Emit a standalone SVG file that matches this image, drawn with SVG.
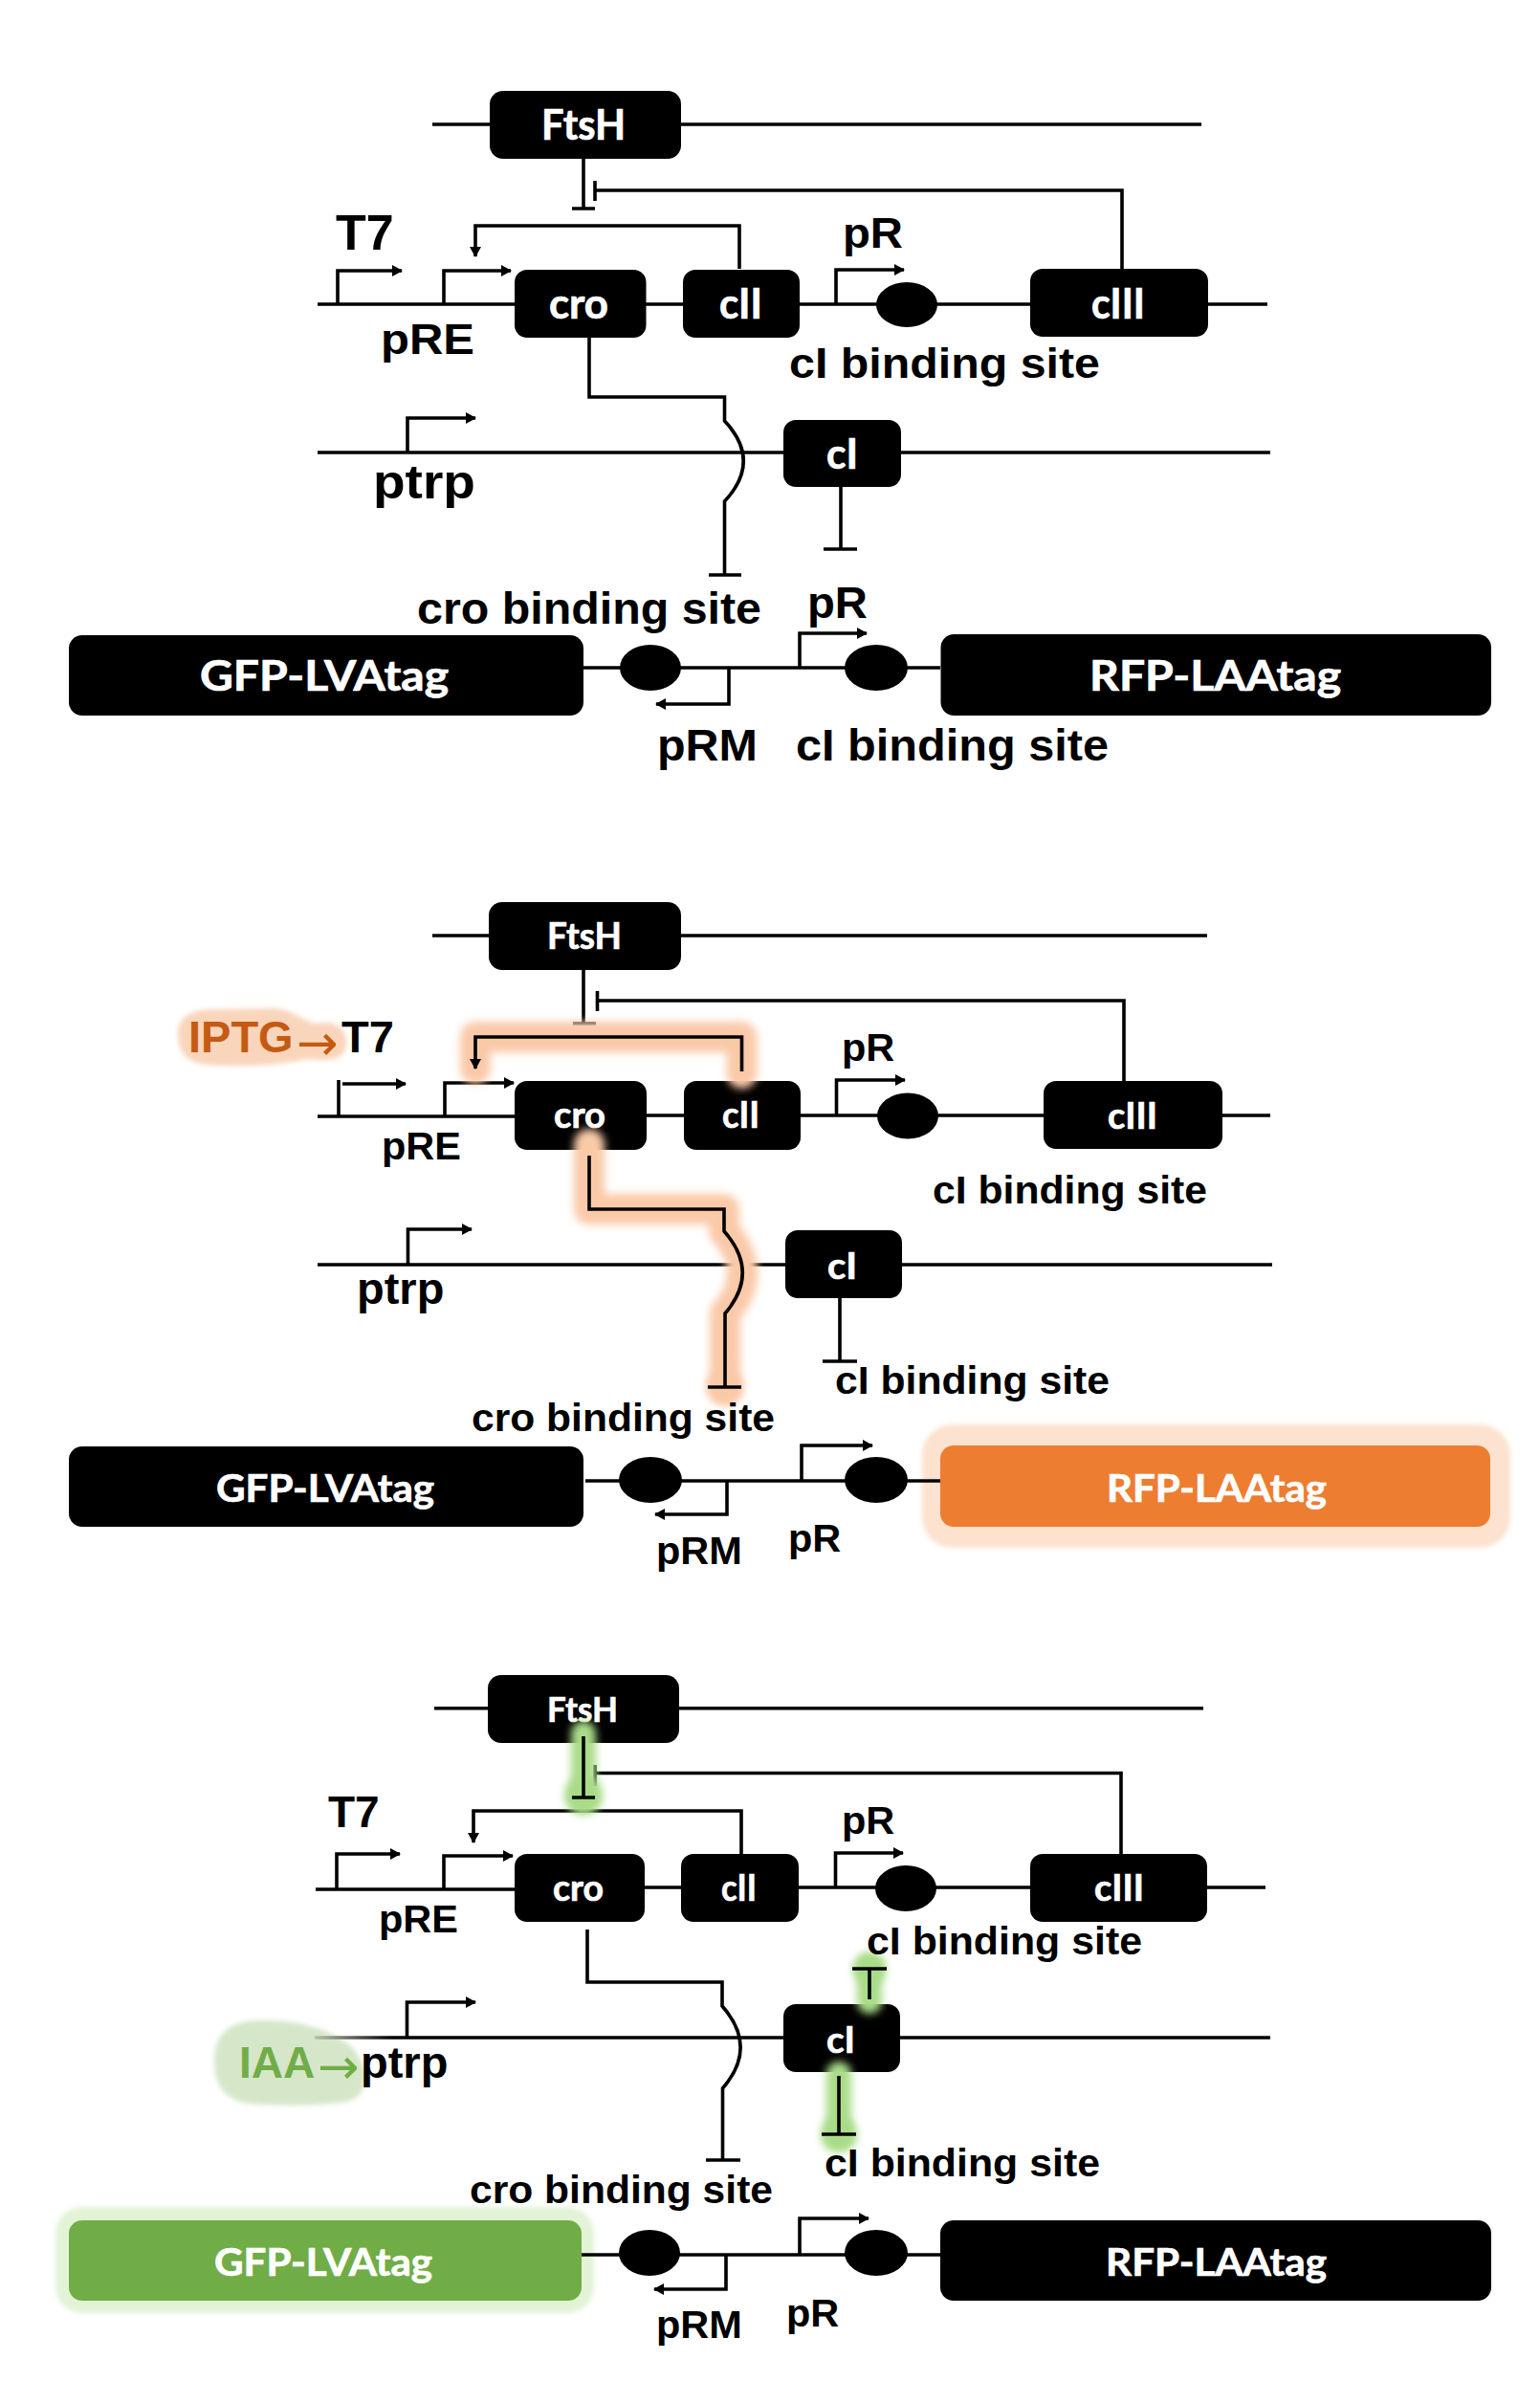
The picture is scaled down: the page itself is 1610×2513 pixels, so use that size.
<svg xmlns="http://www.w3.org/2000/svg" width="1610" height="2513" viewBox="0 0 1610 2513">
<style>
.c{fill:none;stroke:#000;stroke-width:3.6}
.a{fill:none;stroke:#000;stroke-width:3.6;marker-end:url(#ah)}
.b{fill:#000}
.l{font-family:"Liberation Sans",Arial,sans-serif;font-weight:700;fill:#000}
.w{font-family:Lato,"Liberation Sans",sans-serif;font-weight:700;fill:#fff;stroke:#fff;stroke-width:.7}
.s{font-size:44px}.m{font-size:46px}.n{font-size:41.500px}
.go{fill:none;stroke:#fac9a8;stroke-width:32;stroke-linecap:round;stroke-linejoin:round;filter:url(#soft)}
.gg{fill:none;stroke:#a9dc88;stroke-width:26;stroke-linecap:round;stroke-linejoin:round;filter:url(#soft)}
.gb{fill:#a9dc88;filter:url(#soft)}
</style>
<defs>
<marker id="ah" markerUnits="userSpaceOnUse" markerWidth="14" markerHeight="14" refX="10" refY="6" orient="auto"><path d="M0 0L11 6L0 12Z" fill="#000"/></marker>
<filter id="soft" filterUnits="userSpaceOnUse" x="0" y="0" width="1610" height="2513"><feGaussianBlur stdDeviation="4"/></filter>
<filter id="soft2" filterUnits="userSpaceOnUse" x="0" y="0" width="1610" height="2513"><feGaussianBlur stdDeviation="2.500"/></filter>
<linearGradient id="fade" gradientUnits="userSpaceOnUse" x1="329" y1="0" x2="410" y2="0"><stop offset="0" stop-color="#b9c4ae"/><stop offset="1" stop-color="#000"/></linearGradient>
</defs>
<rect width="1610" height="2513" fill="#fff"/>

<g id="highlights-back">
<rect x="964" y="1489" width="615" height="129" rx="32" fill="#fce2cf" filter="url(#soft2)"/>
<rect x="58" y="2307" width="563" height="111" rx="28" fill="#e2f3d6" filter="url(#soft2)"/>
<path d="M186 1080C186 1060 205 1054 230 1055L285 1054C305 1055 315 1066 330 1070C350 1066 363 1075 362 1090C362 1108 345 1110 320 1107C300 1113 250 1116 215 1113C195 1110 186 1100 186 1080Z" fill="#f9d5bc" filter="url(#soft2)"/>
<path d="M224 2155C224 2125 240 2112 275 2112C310 2112 345 2120 368 2140C385 2160 390 2190 362 2197C330 2202 290 2201 260 2199C235 2195 224 2180 224 2155Z" fill="#d6e6c9" filter="url(#soft2)"/>
</g>

<g id="connectors">
<!-- panel 1 -->
<path class="c" d="M452 130H1256"/>
<path class="c" d="M332 318H1325"/>
<path class="c" d="M332 473H1328"/>
<path class="c" d="M610 166V218M598 218H622"/>
<path class="c" d="M622 189V210M622 199H1173V281"/>
<path class="a" d="M773 281V236H497V268"/>
<path class="a" d="M353 318V283H420"/>
<path class="a" d="M464 318V283H534"/>
<path class="a" d="M874 318V282H945"/>
<path class="a" d="M426 473V437H497"/>
<path class="c" d="M616 353V415H757.500V440Q797 482 757.500 524V601M741 601H775"/>
<path class="c" d="M879 509V574M861 574H896"/>
<path class="c" d="M609 698H983"/>
<path class="a" d="M836 698V662H906"/>
<path class="a" d="M762 698V736H686"/>
<!-- panel 2 -->
<path class="c" d="M452 978H1262"/>
<path class="c" d="M332 1167H538M675 1166H1328"/>
<path class="c" d="M332 1322H1330"/>
<path class="c" d="M610 1014V1070M599 1070H623"/>
<path class="c" d="M624.500 1036V1057M624.500 1046H1175V1130"/>
<path class="c" d="M354 1167V1129"/>
<path class="a" d="M358 1133H424"/>
<path class="a" d="M465 1167V1132H537"/>
<path class="a" d="M874.500 1166V1129H946"/>
<path class="a" d="M426.500 1322V1285H493"/>
<path class="c" d="M878 1357V1423M860 1423H896"/>
<path class="c" d="M612 1548H983"/>
<path class="a" d="M838 1548V1511H912"/>
<path class="a" d="M760 1548V1583H685"/>
<!-- panel 3 -->
<path class="c" d="M454 1785.700H1258"/>
<path class="c" d="M330 1975H538M673 1973H1323"/>
<path class="c" d="M622 1845V1867M622 1853.500H1172V1938"/>
<path class="a" d="M775 1938V1893H495V1926"/>
<path class="a" d="M352 1975V1938H418"/>
<path class="a" d="M464 1975V1940H536"/>
<path class="a" d="M873.500 1973V1937H944"/>
<path d="M329 2130H410" fill="none" stroke="url(#fade)" stroke-width="3.600"/>
<path class="c" d="M410 2130H1328"/>
<path class="a" d="M425.500 2130V2093H497"/>
<path class="c" d="M614 2017V2072H755V2097Q793 2140 755.500 2183V2258M738 2258H774"/>
<path class="c" d="M608 2357H983"/>
<path class="a" d="M836 2357V2319H908"/>
<path class="a" d="M759 2357V2393H684"/>
</g>

<g id="node-ftsh-1"><rect class="b" x="512" y="95" width="200" height="71" rx="14"/><text class="w" x="566" y="146" font-size="43" textLength="88" lengthAdjust="spacingAndGlyphs">FtsH</text></g>
<g id="node-cro-1"><rect class="b" x="538" y="282" width="137.500" height="71" rx="13"/><text class="w" x="574" y="333" font-size="43" textLength="62" lengthAdjust="spacingAndGlyphs">cro</text></g>
<g id="node-cii-1"><rect class="b" x="714" y="282" width="122" height="71" rx="13"/><text class="w" x="752" y="333" font-size="43" textLength="45" lengthAdjust="spacingAndGlyphs">cII</text></g>
<g id="node-ciii-1"><rect class="b" x="1077" y="281" width="186" height="71" rx="13"/><text class="w" x="1141" y="333" font-size="43" textLength="56" lengthAdjust="spacingAndGlyphs">cIII</text></g>
<g id="node-ci-1"><rect class="b" x="819" y="439" width="123" height="70" rx="13"/><text class="w" x="864" y="490" font-size="43" textLength="33" lengthAdjust="spacingAndGlyphs">cI</text></g>
<g id="node-site-1a"><ellipse class="b" cx="948" cy="318.500" rx="32" ry="23.500"/></g>
<g id="node-gfp-1"><rect class="b" x="72" y="664" width="538" height="84" rx="14"/><text class="w" x="209" y="722" font-size="43" textLength="260" lengthAdjust="spacingAndGlyphs">GFP-LVAtag</text></g>
<g id="node-rfp-1"><rect class="b" x="983.500" y="663" width="575.500" height="85" rx="14"/><text class="w" x="1139" y="722" font-size="43" textLength="263" lengthAdjust="spacingAndGlyphs">RFP-LAAtag</text></g>
<g id="node-site-1b"><ellipse class="b" cx="680" cy="698" rx="32" ry="24"/></g>
<g id="node-site-1c"><ellipse class="b" cx="916" cy="698" rx="33" ry="24"/></g>

<g id="node-ftsh-2"><rect class="b" x="511" y="943" width="201" height="71" rx="14"/><text class="w" x="572" y="992" font-size="38" textLength="78" lengthAdjust="spacingAndGlyphs">FtsH</text></g>
<g id="node-cro-2"><rect class="b" x="538" y="1130" width="138" height="72" rx="13"/><text class="w" x="579" y="1179" font-size="38" textLength="54" lengthAdjust="spacingAndGlyphs">cro</text></g>
<g id="node-cii-2"><rect class="b" x="715" y="1130" width="122" height="72" rx="13"/><text class="w" x="755" y="1179" font-size="38" textLength="39" lengthAdjust="spacingAndGlyphs">cII</text></g>
<g id="node-ciii-2"><rect class="b" x="1091" y="1130" width="187" height="71" rx="13"/><text class="w" x="1158" y="1180" font-size="38" textLength="52" lengthAdjust="spacingAndGlyphs">cIII</text></g>
<g id="node-ci-2"><rect class="b" x="821" y="1286" width="122" height="71" rx="13"/><text class="w" x="865" y="1337" font-size="38" textLength="31" lengthAdjust="spacingAndGlyphs">cI</text></g>
<g id="node-site-2a"><ellipse class="b" cx="949" cy="1166.500" rx="32" ry="24"/></g>
<g id="node-gfp-2"><rect class="b" x="72" y="1512" width="538" height="84" rx="14"/><text class="w" x="226" y="1570" font-size="40" textLength="228" lengthAdjust="spacingAndGlyphs">GFP-LVAtag</text></g>
<g id="node-rfp-2"><rect x="983" y="1511" width="575" height="85" rx="14" fill="#ed7d31"/><text class="w" x="1157" y="1570" font-size="40" textLength="230" lengthAdjust="spacingAndGlyphs">RFP-LAAtag</text></g>
<g id="node-site-2b"><ellipse class="b" cx="680" cy="1547" rx="33" ry="24"/></g>
<g id="node-site-2c"><ellipse class="b" cx="916" cy="1547" rx="33" ry="24"/></g>

<g id="node-ftsh-3"><rect class="b" x="510" y="1751" width="200" height="71" rx="14"/><text class="w" x="572" y="1800" font-size="37" textLength="74" lengthAdjust="spacingAndGlyphs">FtsH</text></g>
<g id="node-cro-3"><rect class="b" x="538" y="1938" width="136" height="71" rx="13"/><text class="w" x="578" y="1987" font-size="38" textLength="53" lengthAdjust="spacingAndGlyphs">cro</text></g>
<g id="node-cii-3"><rect class="b" x="712" y="1938" width="123" height="71" rx="13"/><text class="w" x="754" y="1987" font-size="38" textLength="37" lengthAdjust="spacingAndGlyphs">cII</text></g>
<g id="node-ciii-3"><rect class="b" x="1077" y="1938" width="185" height="71" rx="13"/><text class="w" x="1144" y="1987" font-size="38" textLength="52" lengthAdjust="spacingAndGlyphs">cIII</text></g>
<g id="node-ci-3"><rect class="b" x="819" y="2095" width="122" height="71" rx="13"/><text class="w" x="864" y="2146" font-size="38" textLength="30" lengthAdjust="spacingAndGlyphs">cI</text></g>
<g id="node-site-3a"><ellipse class="b" cx="947" cy="1974" rx="32" ry="24"/></g>
<g id="node-gfp-3"><rect x="72" y="2321" width="536" height="84" rx="14" fill="#70ad47"/><text class="w" x="224" y="2379" font-size="40" textLength="228" lengthAdjust="spacingAndGlyphs">GFP-LVAtag</text></g>
<g id="node-rfp-3"><rect class="b" x="983" y="2321" width="576" height="84" rx="14"/><text class="w" x="1156" y="2379" font-size="40" textLength="231" lengthAdjust="spacingAndGlyphs">RFP-LAAtag</text></g>
<g id="node-site-3b"><ellipse class="b" cx="679" cy="2355" rx="32" ry="24"/></g>
<g id="node-site-3c"><ellipse class="b" cx="916" cy="2355" rx="33" ry="24"/></g>

<g id="labels-1">
<text class="l" x="351" y="261" font-size="52">T7</text>
<text class="l s" x="398" y="370" textLength="98" lengthAdjust="spacingAndGlyphs">pRE</text>
<text class="l s" x="881" y="259" textLength="63" lengthAdjust="spacingAndGlyphs">pR</text>
<text class="l s" x="825" y="395" textLength="325" lengthAdjust="spacingAndGlyphs">cI binding site</text>
<text class="l" x="390" y="521" font-size="50" textLength="107" lengthAdjust="spacingAndGlyphs">ptrp</text>
<text class="l m" x="436" y="652" textLength="360" lengthAdjust="spacingAndGlyphs">cro binding site</text>
<text class="l m" x="844" y="646" textLength="63" lengthAdjust="spacingAndGlyphs">pR</text>
<text class="l m" x="687" y="795" textLength="105" lengthAdjust="spacingAndGlyphs">pRM</text>
<text class="l m" x="832" y="795" textLength="327" lengthAdjust="spacingAndGlyphs">cI binding site</text>
</g>

<g id="glow-2">
<path class="go" d="M497 1117V1084H775.500V1122"/>
<path class="go" d="M616 1196V1264H757V1287Q795 1330 758 1373V1450"/>
<circle cx="758" cy="1450" r="19" fill="#fac9a8" filter="url(#soft)"/>
</g>
<g id="glow-3">
<path class="gg" d="M610 1812V1879"/>
<circle class="gb" cx="610" cy="1877" r="20"/>
<path class="gg" d="M909 2058V2092"/>
<circle class="gb" cx="909" cy="2058" r="17"/>
<path class="gg" d="M877 2168V2231"/>
<circle class="gb" cx="877" cy="2231" r="19"/>
</g>

<g id="connectors-highlighted">
<path class="a" d="M775.500 1120V1084H497V1117"/>
<path class="c" d="M616 1208V1264H757V1287Q795 1330 758 1373V1450M740 1450H775"/>
<path class="c" d="M610 1815V1879M598 1879H622"/>
<path class="c" d="M909 2090V2058M891 2058H927"/>
<path class="c" d="M877 2170V2231M859 2231H895"/>
</g>

<g id="labels-2">
<text class="l" x="197" y="1100" font-size="47"><tspan fill="#c55a11">IPTG</tspan><tspan x="310" y="1108" font-size="52" fill="#c55a11" font-weight="400" font-family="'DejaVu Sans',sans-serif">→</tspan><tspan x="357" y="1100">T7</tspan></text>
<text class="l n" x="399" y="1212">pRE</text>
<text class="l n" x="880" y="1109">pR</text>
<text class="l n" x="975" y="1258" textLength="287" lengthAdjust="spacingAndGlyphs">cI binding site</text>
<text class="l" x="373" y="1363" font-size="47">ptrp</text>
<text class="l n" x="873" y="1457" textLength="287" lengthAdjust="spacingAndGlyphs">cI binding site</text>
<text class="l n" x="493" y="1496" textLength="317" lengthAdjust="spacingAndGlyphs">cro binding site</text>
<text class="l n" x="824" y="1622">pR</text>
<text class="l n" x="686" y="1635">pRM</text>
</g>
<g id="labels-3">
<text class="l" x="343" y="1910" font-size="46">T7</text>
<text class="l n" x="396" y="2020">pRE</text>
<text class="l n" x="880" y="1917">pR</text>
<text class="l n" x="906" y="2043" textLength="288" lengthAdjust="spacingAndGlyphs">cI binding site</text>
<text class="l" x="250" y="2172" font-size="46"><tspan fill="#70ad47">IAA</tspan><tspan x="332" y="2178" font-size="52" fill="#70ad47" font-weight="400" font-family="'DejaVu Sans',sans-serif">→</tspan><tspan x="377" y="2172" fill="#000" font-size="47">ptrp</tspan></text>
<text class="l n" x="862" y="2275" textLength="288" lengthAdjust="spacingAndGlyphs">cI binding site</text>
<text class="l n" x="491" y="2303" textLength="317" lengthAdjust="spacingAndGlyphs">cro binding site</text>
<text class="l n" x="822" y="2432">pR</text>
<text class="l n" x="686" y="2444">pRM</text>
</g>
</svg>
